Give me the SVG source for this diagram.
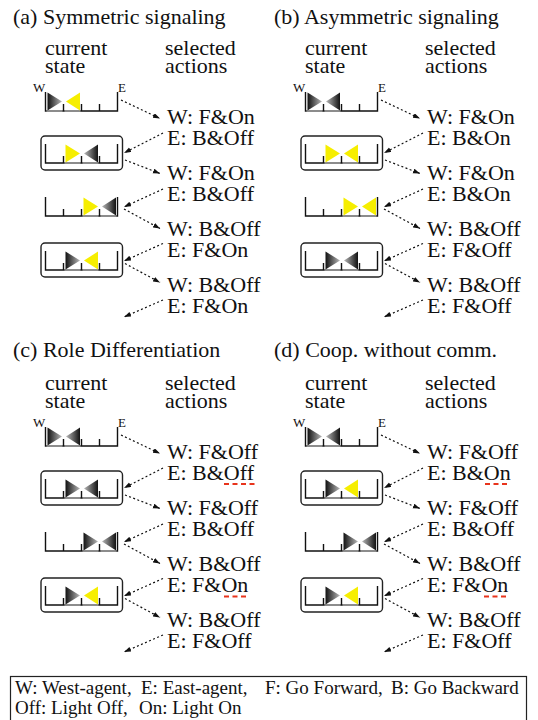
<svg xmlns="http://www.w3.org/2000/svg" width="538" height="720" viewBox="0 0 538 720">
<style>
  text { font-family: "Liberation Serif", "Times New Roman", serif; fill: #111; }
  .t { font-size: 22px; }
  .lbl { font-size: 13px; }
  .leg { font-size: 19px; }
  .conn { fill: none; stroke: #111; stroke-width: 1.2; stroke-dasharray: 2 2.4; marker-end: url(#head); }
  .frame { fill: none; stroke: #222; stroke-width: 1.4; }
  .trk { fill: none; stroke: #111; stroke-width: 1.4; }
  .mark { stroke: #e8341c; stroke-width: 2; stroke-dasharray: 5 3.5; }
  .lit { fill: #f6ee00; }
  .dw { fill: url(#shadeW); }
  .de { fill: url(#shadeE); }
</style>
<defs>
  <!-- shading of an agent whose light is off: dark at the base, pale at the tip -->
  <linearGradient id="shadeW" x1="0" y1="0" x2="1" y2="0">
    <stop offset="0" stop-color="#111"/>
    <stop offset="1" stop-color="#b8b8b8"/>
  </linearGradient>
  <linearGradient id="shadeE" x1="1" y1="0" x2="0" y2="0">
    <stop offset="0" stop-color="#111"/>
    <stop offset="1" stop-color="#b8b8b8"/>
  </linearGradient>
  <marker id="head" markerUnits="userSpaceOnUse" markerWidth="8" markerHeight="6" refX="7" refY="2.5" orient="auto">
    <path d="M0,0L7,2.5L0,5z" fill="#111"/>
  </marker>
  <!-- four-cell corridor: two end walls, floor, three short cell ticks -->
  <path id="track" class="trk" d="M0,0V19H72V0M18,12V19M36,12V19M54,12V19"/>
  <line id="gnd" x1="1" y1="19" x2="17" y2="19" stroke="#aaa" stroke-width="1.4"/>
  <polygon id="wa" points="2,0.5 2,18.5 16.5,9.5"/>
  <polygon id="ea" points="16.5,0.5 16.5,18.5 2.5,9.5"/>
  <rect id="box" class="frame" x="-4.5" y="-8" width="81.5" height="34" rx="4"/>
</defs>

<rect width="538" height="720" fill="#fff"/>

<!-- ============ (a) Symmetric signaling ============ -->
<g id="panel-a">
  <text class="t" x="13" y="24">(a) Symmetric signaling</text>
  <g id="a-head">
    <text class="t" x="45" y="55">current</text>
    <text class="t" x="45" y="73">state</text>
    <text class="t" x="165" y="55">selected</text>
    <text class="t" x="165" y="73">actions</text>
  </g>
  <g id="a-s1" transform="translate(45.5,92)">
    <use href="#track"/><use href="#gnd" x="0"/><use href="#gnd" x="18"/>
    <use href="#wa" x="0" class="dw"/><use href="#ea" x="18" class="lit"/>
    <text class="lbl" x="-12.5" y="0">W</text><text class="lbl" x="72.5" y="0">E</text>
  </g>
  <g id="a-s2" transform="translate(45.5,144)">
    <use href="#box"/>
    <use href="#track"/><use href="#gnd" x="18"/><use href="#gnd" x="36"/>
    <use href="#wa" x="18" class="lit"/><use href="#ea" x="36" class="de"/>
  </g>
  <g id="a-s3" transform="translate(45.5,197)">
    <use href="#track"/><use href="#gnd" x="36"/><use href="#gnd" x="54"/>
    <use href="#wa" x="36" class="lit"/><use href="#ea" x="54" class="de"/>
  </g>
  <g id="a-s4" transform="translate(45.5,251)">
    <use href="#box"/>
    <use href="#track"/><use href="#gnd" x="18"/><use href="#gnd" x="36"/>
    <use href="#wa" x="18" class="dw"/><use href="#ea" x="36" class="lit"/>
  </g>
  <g id="a-act1"><text class="t" x="167" y="124">W: F&amp;On</text><text class="t" x="167" y="144.5">E: B&amp;Off</text></g>
  <g id="a-act2"><text class="t" x="167" y="180">W: F&amp;On</text><text class="t" x="167" y="200.5">E: B&amp;Off</text></g>
  <g id="a-act3"><text class="t" x="167" y="236">W: B&amp;Off</text><text class="t" x="167" y="256.5">E: F&amp;On</text></g>
  <g id="a-act4"><text class="t" x="167" y="292">W: B&amp;Off</text><text class="t" x="167" y="312.5">E: F&amp;On</text></g>
  <g id="a-conn">
    <path class="conn" d="M121,100L160,118.5"/>
    <path class="conn" d="M163,133L124,153"/>
    <path class="conn" d="M125,160L160,173.5"/>
    <path class="conn" d="M163,189L124,207"/>
    <path class="conn" d="M124,209L160,228.5"/>
    <path class="conn" d="M163,243.5L124,261"/>
    <path class="conn" d="M125,263.5L160,282.5"/>
    <path class="conn" d="M163,300L124,317"/>
  </g>
</g>

<!-- ============ (b) Asymmetric signaling ============ -->
<g id="panel-b" transform="translate(260,0)">
  <text class="t" x="14" y="24">(b) Asymmetric signaling</text>
  <g id="b-head">
    <text class="t" x="45" y="55">current</text>
    <text class="t" x="45" y="73">state</text>
    <text class="t" x="165" y="55">selected</text>
    <text class="t" x="165" y="73">actions</text>
  </g>
  <g id="b-s1" transform="translate(45.5,92)">
    <use href="#track"/><use href="#gnd" x="0"/><use href="#gnd" x="18"/>
    <use href="#wa" x="0" class="dw"/><use href="#ea" x="18" class="de"/>
    <text class="lbl" x="-12.5" y="0">W</text><text class="lbl" x="72.5" y="0">E</text>
  </g>
  <g id="b-s2" transform="translate(45.5,144)">
    <use href="#box"/>
    <use href="#track"/><use href="#gnd" x="18"/><use href="#gnd" x="36"/>
    <use href="#wa" x="18" class="lit"/><use href="#ea" x="36" class="lit"/>
  </g>
  <g id="b-s3" transform="translate(45.5,197)">
    <use href="#track"/><use href="#gnd" x="36"/><use href="#gnd" x="54"/>
    <use href="#wa" x="36" class="lit"/><use href="#ea" x="54" class="lit"/>
  </g>
  <g id="b-s4" transform="translate(45.5,251)">
    <use href="#box"/>
    <use href="#track"/><use href="#gnd" x="18"/><use href="#gnd" x="36"/>
    <use href="#wa" x="18" class="dw"/><use href="#ea" x="36" class="de"/>
  </g>
  <g id="b-act1"><text class="t" x="167" y="124">W: F&amp;On</text><text class="t" x="167" y="144.5">E: B&amp;On</text></g>
  <g id="b-act2"><text class="t" x="167" y="180">W: F&amp;On</text><text class="t" x="167" y="200.5">E: B&amp;On</text></g>
  <g id="b-act3"><text class="t" x="167" y="236">W: B&amp;Off</text><text class="t" x="167" y="256.5">E: F&amp;Off</text></g>
  <g id="b-act4"><text class="t" x="167" y="292">W: B&amp;Off</text><text class="t" x="167" y="312.5">E: F&amp;Off</text></g>
  <g id="b-conn">
    <path class="conn" d="M121,100L160,118.5"/>
    <path class="conn" d="M163,133L124,153"/>
    <path class="conn" d="M125,160L160,173.5"/>
    <path class="conn" d="M163,189L124,207"/>
    <path class="conn" d="M124,209L160,228.5"/>
    <path class="conn" d="M163,243.5L124,261"/>
    <path class="conn" d="M125,263.5L160,282.5"/>
    <path class="conn" d="M163,300L124,317"/>
  </g>
</g>

<!-- ============ (c) Role Differentiation ============ -->
<g id="panel-c" transform="translate(0,335)">
  <text class="t" x="13" y="22">(c) Role Differentiation</text>
  <g id="c-head">
    <text class="t" x="45" y="55">current</text>
    <text class="t" x="45" y="73">state</text>
    <text class="t" x="165" y="55">selected</text>
    <text class="t" x="165" y="73">actions</text>
  </g>
  <g id="c-s1" transform="translate(45.5,92)">
    <use href="#track"/><use href="#gnd" x="0"/><use href="#gnd" x="18"/>
    <use href="#wa" x="0" class="dw"/><use href="#ea" x="18" class="de"/>
    <text class="lbl" x="-12.5" y="0">W</text><text class="lbl" x="72.5" y="0">E</text>
  </g>
  <g id="c-s2" transform="translate(45.5,144)">
    <use href="#box"/>
    <use href="#track"/><use href="#gnd" x="18"/><use href="#gnd" x="36"/>
    <use href="#wa" x="18" class="dw"/><use href="#ea" x="36" class="de"/>
  </g>
  <g id="c-s3" transform="translate(45.5,197)">
    <use href="#track"/><use href="#gnd" x="36"/><use href="#gnd" x="54"/>
    <use href="#wa" x="36" class="dw"/><use href="#ea" x="54" class="de"/>
  </g>
  <g id="c-s4" transform="translate(45.5,251)">
    <use href="#box"/>
    <use href="#track"/><use href="#gnd" x="18"/><use href="#gnd" x="36"/>
    <use href="#wa" x="18" class="dw"/><use href="#ea" x="36" class="lit"/>
  </g>
  <g id="c-act1"><text class="t" x="167" y="124">W: F&amp;Off</text><text class="t" x="167" y="144.5">E: B&amp;Off</text>
    <line class="mark" x1="224" y1="149" x2="256" y2="149"/></g>
  <g id="c-act2"><text class="t" x="167" y="180">W: F&amp;Off</text><text class="t" x="167" y="200.5">E: B&amp;Off</text></g>
  <g id="c-act3"><text class="t" x="167" y="236">W: B&amp;Off</text><text class="t" x="167" y="256.5">E: F&amp;On</text>
    <line class="mark" x1="224" y1="261.5" x2="248" y2="261.5"/></g>
  <g id="c-act4"><text class="t" x="167" y="292">W: B&amp;Off</text><text class="t" x="167" y="312.5">E: F&amp;Off</text></g>
  <g id="c-conn">
    <path class="conn" d="M121,100L160,118.5"/>
    <path class="conn" d="M163,133L124,153"/>
    <path class="conn" d="M125,160L160,173.5"/>
    <path class="conn" d="M163,189L124,207"/>
    <path class="conn" d="M124,209L160,228.5"/>
    <path class="conn" d="M163,243.5L124,261"/>
    <path class="conn" d="M125,263.5L160,282.5"/>
    <path class="conn" d="M163,300L124,317"/>
  </g>
</g>

<!-- ============ (d) Coop. without comm. ============ -->
<g id="panel-d" transform="translate(260,335)">
  <text class="t" x="14" y="22">(d) Coop. without comm.</text>
  <g id="d-head">
    <text class="t" x="45" y="55">current</text>
    <text class="t" x="45" y="73">state</text>
    <text class="t" x="165" y="55">selected</text>
    <text class="t" x="165" y="73">actions</text>
  </g>
  <g id="d-s1" transform="translate(45.5,92)">
    <use href="#track"/><use href="#gnd" x="0"/><use href="#gnd" x="18"/>
    <use href="#wa" x="0" class="dw"/><use href="#ea" x="18" class="de"/>
    <text class="lbl" x="-12.5" y="0">W</text><text class="lbl" x="72.5" y="0">E</text>
  </g>
  <g id="d-s2" transform="translate(45.5,144)">
    <use href="#box"/>
    <use href="#track"/><use href="#gnd" x="18"/><use href="#gnd" x="36"/>
    <use href="#wa" x="18" class="dw"/><use href="#ea" x="36" class="lit"/>
  </g>
  <g id="d-s3" transform="translate(45.5,197)">
    <use href="#track"/><use href="#gnd" x="36"/><use href="#gnd" x="54"/>
    <use href="#wa" x="36" class="dw"/><use href="#ea" x="54" class="de"/>
  </g>
  <g id="d-s4" transform="translate(45.5,251)">
    <use href="#box"/>
    <use href="#track"/><use href="#gnd" x="18"/><use href="#gnd" x="36"/>
    <use href="#wa" x="18" class="dw"/><use href="#ea" x="36" class="lit"/>
  </g>
  <g id="d-act1"><text class="t" x="167" y="124">W: F&amp;Off</text><text class="t" x="167" y="144.5">E: B&amp;On</text>
    <line class="mark" x1="225" y1="149" x2="250" y2="149"/></g>
  <g id="d-act2"><text class="t" x="167" y="180">W: F&amp;Off</text><text class="t" x="167" y="200.5">E: B&amp;Off</text></g>
  <g id="d-act3"><text class="t" x="167" y="236">W: B&amp;Off</text><text class="t" x="167" y="256.5">E: F&amp;On</text>
    <line class="mark" x1="224" y1="261.5" x2="248" y2="261.5"/></g>
  <g id="d-act4"><text class="t" x="167" y="292">W: B&amp;Off</text><text class="t" x="167" y="312.5">E: F&amp;Off</text></g>
  <g id="d-conn">
    <path class="conn" d="M121,100L160,118.5"/>
    <path class="conn" d="M163,133L124,153"/>
    <path class="conn" d="M125,160L160,173.5"/>
    <path class="conn" d="M163,189L124,207"/>
    <path class="conn" d="M124,209L160,228.5"/>
    <path class="conn" d="M163,243.5L124,261"/>
    <path class="conn" d="M125,263.5L160,282.5"/>
    <path class="conn" d="M163,300L124,317"/>
  </g>
</g>

<!-- ============ legend ============ -->
<g id="legend">
  <rect x="10.5" y="676.5" width="516" height="46" fill="none" stroke="#222" stroke-width="1.2"/>
  <text class="leg" x="15" y="694">W: West-agent,</text>
  <text class="leg" x="141" y="694">E: East-agent,</text>
  <text class="leg" x="265" y="694">F: Go Forward,</text>
  <text class="leg" x="391" y="694">B: Go Backward</text>
  <text class="leg" x="15" y="714">Off: Light Off,</text>
  <text class="leg" x="139" y="714">On: Light On</text>
</g>
</svg>
